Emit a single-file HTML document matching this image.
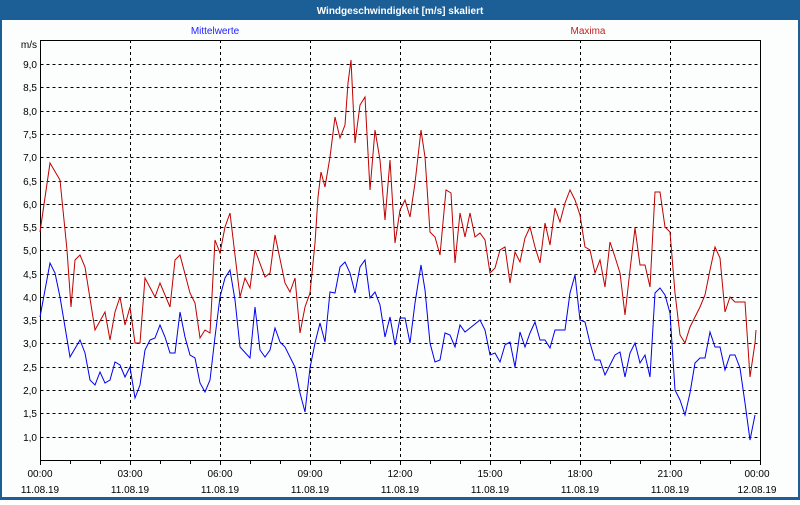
<!DOCTYPE html>
<html><head><meta charset="utf-8"><style>
body{margin:0;width:800px;height:500px;overflow:hidden;background:#fff}
text{font-family:"Liberation Sans",sans-serif;font-size:10px}
</style></head><body>
<svg width="800" height="500" xmlns="http://www.w3.org/2000/svg">
<rect x="0" y="0" width="800" height="500" fill="#1c5f97"/>
<rect x="2" y="20" width="796" height="477" fill="#fcfefe"/>
<text x="400" y="14" fill="#fff" font-weight="bold" font-size="11" text-anchor="middle">Windgeschwindigkeit [m/s] skaliert</text>
<text x="215" y="34" fill="#2020ff" text-anchor="middle">Mittelwerte</text>
<text x="588" y="34" fill="#c02020" text-anchor="middle">Maxima</text>
<g stroke="#000" stroke-dasharray="3,3" stroke-width="1">
<path d="M40.5 64.5H760M40.5 87.5H760M40.5 111.5H760M40.5 134.5H760M40.5 157.5H760M40.5 181.5H760M40.5 204.5H760M40.5 227.5H760M40.5 250.5H760M40.5 274.5H760M40.5 297.5H760M40.5 320.5H760M40.5 343.5H760M40.5 367.5H760M40.5 390.5H760M40.5 413.5H760M40.5 437.5H760"/>
<path d="M130.5 40V460M220.5 40V460M310.5 40V460M400.5 40V460M490.5 40V460M580.5 40V460M670.5 40V460"/>
</g>
<rect x="40.5" y="40.5" width="720" height="420" fill="none" stroke="#000"/>
<g stroke="#000"><path d="M40.5 460V465M70.5 460V464M100.5 460V464M130.5 460V465M160.5 460V464M190.5 460V464M220.5 460V465M250.5 460V464M280.5 460V464M310.5 460V465M340.5 460V464M370.5 460V464M400.5 460V465M430.5 460V464M460.5 460V464M490.5 460V465M520.5 460V464M550.5 460V464M580.5 460V465M610.5 460V464M640.5 460V464M670.5 460V465M700.5 460V464M730.5 460V464M760.5 460V465"/></g>
<g text-anchor="end" fill="#000">
<text x="37" y="48">m/s</text>
<text x="37" y="68">9,0</text><text x="37" y="91">8,5</text><text x="37" y="115">8,0</text><text x="37" y="138">7,5</text><text x="37" y="161">7,0</text><text x="37" y="185">6,5</text><text x="37" y="208">6,0</text><text x="37" y="231">5,5</text><text x="37" y="254">5,0</text><text x="37" y="278">4,5</text><text x="37" y="301">4,0</text><text x="37" y="324">3,5</text><text x="37" y="347">3,0</text><text x="37" y="371">2,5</text><text x="37" y="394">2,0</text><text x="37" y="417">1,5</text><text x="37" y="441">1,0</text>
</g>
<g text-anchor="middle" fill="#000">
<text x="40" y="477">00:00</text><text x="40" y="493">11.08.19</text>
<text x="130" y="477">03:00</text><text x="130" y="493">11.08.19</text>
<text x="220" y="477">06:00</text><text x="220" y="493">11.08.19</text>
<text x="310" y="477">09:00</text><text x="310" y="493">11.08.19</text>
<text x="400" y="477">12:00</text><text x="400" y="493">11.08.19</text>
<text x="490" y="477">15:00</text><text x="490" y="493">11.08.19</text>
<text x="580" y="477">18:00</text><text x="580" y="493">11.08.19</text>
<text x="670" y="477">21:00</text><text x="670" y="493">11.08.19</text>
<text x="757" y="477">00:00</text><text x="757" y="493">12.08.19</text>
</g>
<polyline fill="none" stroke="#c00000" stroke-width="1" points="40,232 50,163 60,180 67,250 71,307 75,260 80,255 85,267 95,330 105,312 110,340 115,312 120,297 125,325 130,307 135,343 140,343 145,278 155,297 160,283 170,307 175,260 180,255 190,293 195,303 200,338 205,330 210,333 215,240 220,253 225,227 230,213 240,297 245,278 250,288 255,250 265,277 270,273 275,235 285,283 290,292 295,278 300,333 305,307 310,293 315,243 318,197 321,172 325,187 330,157 335,117 340,138 345,125 348,83 351,60 355,143 360,105 365,97 370,190 375,130 380,160 385,220 390,160 395,243 400,210 405,200 410,217 415,183 421,130 425,157 430,232 435,237 440,255 446,190 451,193 455,263 460,213 465,237 470,213 475,237 480,233 485,240 490,273 495,268 500,250 505,247 510,283 515,252 520,262 525,238 530,227 535,247 540,263 545,223 550,245 555,208 560,222 565,203 570,190 575,200 580,215 585,247 590,250 595,273 600,260 605,287 610,242 615,257 620,273 625,315 630,270 635,228 640,265 645,265 650,287 655,192 660,192 665,227 670,232 675,293 680,335 685,343 690,327 700,307 705,295 710,270 715,247 720,258 725,312 730,297 735,302 745,302 750,377 755,343 756,330"/>
<polyline fill="none" stroke="#0000ee" stroke-width="1" points="40,317 50,263 55,273 60,297 70,357 80,340 85,353 90,380 95,385 100,372 105,383 110,380 115,362 120,365 125,377 130,367 135,398 140,385 145,350 150,340 155,338 160,325 165,337 170,353 175,353 180,312 185,337 190,355 195,358 200,383 205,392 210,380 215,337 220,297 225,278 230,270 235,300 240,347 250,358 255,307 260,350 265,357 270,350 275,328 280,342 285,347 295,367 300,393 305,412 310,368 315,343 320,323 325,342 330,292 335,293 340,267 345,262 350,273 355,293 360,267 365,260 370,298 375,292 380,305 385,337 390,317 395,345 400,318 405,318 410,343 415,303 421,265 425,290 430,343 435,362 440,360 445,333 450,335 455,347 460,325 465,332 480,320 485,330 490,355 495,353 500,362 505,345 510,342 515,367 520,332 525,347 530,333 535,322 540,340 545,340 550,348 555,330 565,330 570,293 575,275 580,320 585,322 590,343 595,360 600,360 605,375 610,365 615,355 620,352 625,377 630,353 635,343 640,363 645,355 650,377 655,293 660,288 665,295 670,313 675,390 680,400 685,415 690,393 695,363 700,358 705,358 710,332 715,347 720,347 725,370 730,355 735,355 740,368 745,403 750,440 755,415"/>
</svg>
</body></html>
